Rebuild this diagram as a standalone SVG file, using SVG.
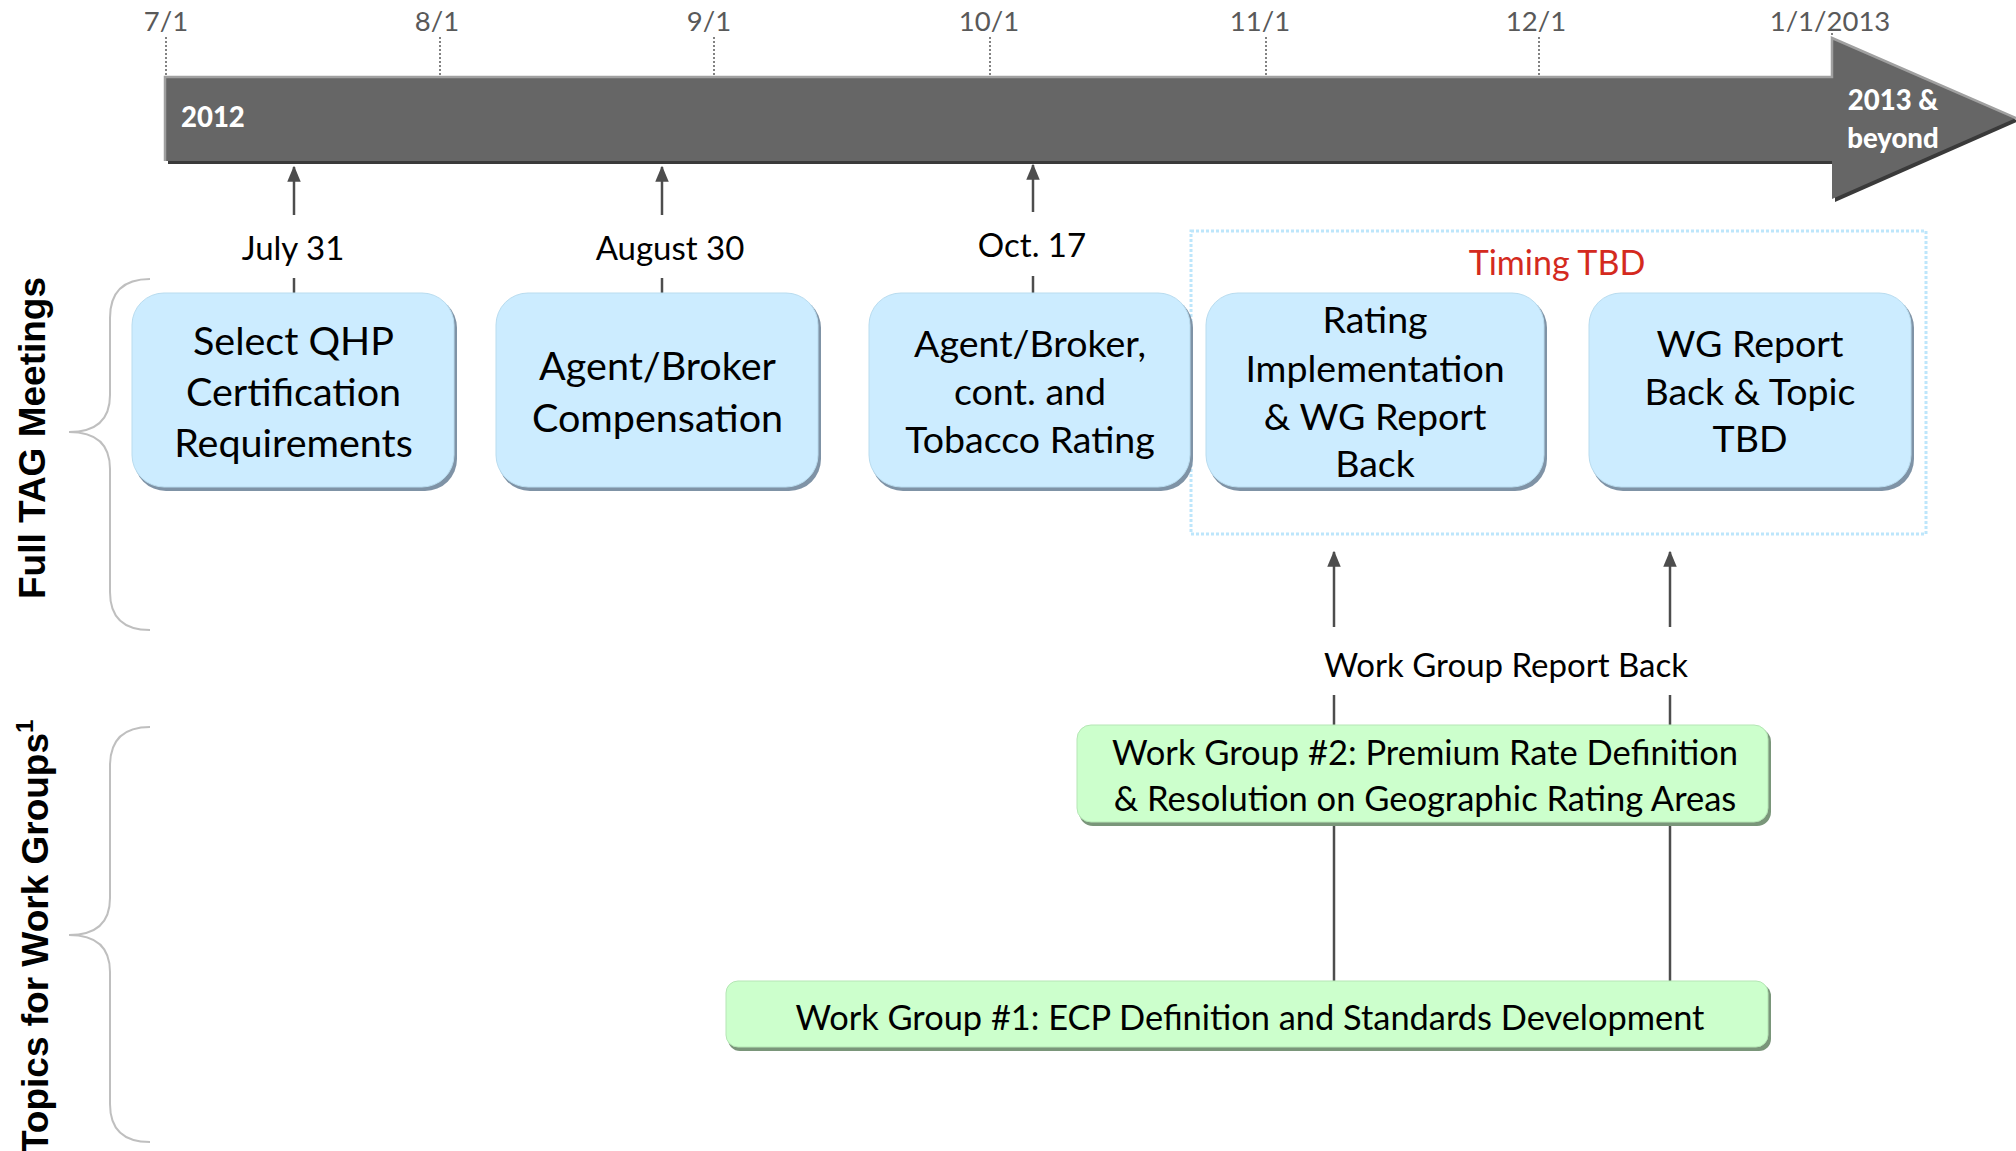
<svg xmlns="http://www.w3.org/2000/svg" width="2016" height="1151" viewBox="0 0 2016 1151">
  <defs>
    <style>
      .cal { font-family: Lato, "Liberation Sans", sans-serif; }
      .tick-label { font-family: Lato, "Liberation Sans", sans-serif; font-size: 27.5px; fill: #595959; text-anchor: middle; }
      .tick { stroke: #595959; stroke-width: 1.5; stroke-dasharray: 2 2; fill: none; }
      .bar-text { font-family: Lato, "Liberation Sans", sans-serif; font-weight: 900; font-size: 27.5px; fill: #ffffff; }
      .date { font-family: Lato, "Liberation Sans", sans-serif; font-size: 33px; fill: #000000; text-anchor: middle; }
      .conn { stroke: #4d4d4d; stroke-width: 2.5; fill: none; }
      .arrow { stroke: #4d4d4d; stroke-width: 2.5; fill: none; marker-end: url(#head); }
      .blue { fill: #CCECFF; stroke: #b9dcef; stroke-width: 1; }
      .blue-shadow { fill: #7f93a6; }
      .green { fill: #CCFFCC; stroke: #b5e6b5; stroke-width: 1; }
      .green-shadow { fill: #7a967a; }
      .box-text { font-family: Lato, "Liberation Sans", sans-serif; fill: #000000; text-anchor: middle; }
      .brace { stroke: #bfbfbf; stroke-width: 2; fill: none; }
      .side { font-family: "Liberation Sans", Arial, sans-serif; font-weight: bold; font-size: 37px; fill: #000000; }
    </style>
    <marker id="head" viewBox="0 0 12 10" refX="11" refY="5" markerWidth="6.5" markerHeight="5.4" orient="auto" markerUnits="strokeWidth">
      <path d="M0,0 L12,5 L0,10 Z" fill="#4d4d4d"/>
    </marker>
  </defs>

  <rect width="2016" height="1151" fill="#ffffff"/>

  <!-- month ticks -->
  <g id="ticks">
    <line class="tick" x1="166" y1="37" x2="166" y2="77"/>
    <line class="tick" x1="440" y1="37" x2="440" y2="77"/>
    <line class="tick" x1="714" y1="37" x2="714" y2="77"/>
    <line class="tick" x1="990" y1="37" x2="990" y2="77"/>
    <line class="tick" x1="1266" y1="37" x2="1266" y2="77"/>
    <line class="tick" x1="1539" y1="37" x2="1539" y2="77"/>
    <line class="tick" x1="1832" y1="33" x2="1832" y2="40"/>
    <text class="tick-label" x="166" y="31">7/1</text>
    <text class="tick-label" x="437" y="31">8/1</text>
    <text class="tick-label" x="709" y="31">9/1</text>
    <text class="tick-label" x="989" y="31">10/1</text>
    <text class="tick-label" x="1260" y="31">11/1</text>
    <text class="tick-label" x="1536" y="31">12/1</text>
    <text class="tick-label" x="1830" y="31">1/1/2013</text>
  </g>

  <!-- timeline arrow -->
  <g id="timeline">
    <path d="M168,80 H1835 V41 L2019,121 L1835,202 V164 H168 Z" fill="#3a3a3a"/>
    <path d="M165,77 H1832 V38 L2016,118 L1832,199 V161 H165 Z" fill="#666666"/>
    <path d="M165,161 V77 H1832 V38 L2016,118" fill="none" stroke="#a0a0a0" stroke-width="2.5"/>
    <text class="bar-text" x="181" y="127">2012</text>
    <text class="bar-text" x="1893" y="110" text-anchor="middle">2013 &amp;</text>
    <text class="bar-text" x="1893" y="148" text-anchor="middle">beyond</text>
  </g>

  <!-- side group labels and braces -->
  <g id="label-tag">
    <text class="side" transform="translate(45,438) rotate(-90)" text-anchor="middle">Full TAG Meetings</text>
    <path class="brace" d="M150,279 Q110,279 110,318 L110,395 Q110,432 69,432 Q110,432 110,469 L110,592 Q110,630 150,630"/>
  </g>
  <g id="label-wg">
    <text class="side" transform="translate(48,1153) rotate(-90)">Topics for Work Groups<tspan font-size="24" dy="-15">1</tspan></text>
    <path class="brace" d="M150,727 Q110,727 110,766 L110,898 Q110,935 69,935 Q110,935 110,972 L110,1104 Q110,1142 150,1142"/>
  </g>

  <!-- dashed frame around meetings with undecided timing -->
  <g id="timing-tbd">
    <rect x="1191" y="231" width="735" height="303" fill="none" stroke="#bde6fb" stroke-width="3" stroke-dasharray="3 2"/>
    <text class="cal" x="1557" y="275" font-size="34" fill="#d42a1e" text-anchor="middle">Timing TBD</text>
  </g>

  <!-- connectors -->
  <g id="connectors">
    <line class="arrow" x1="294" y1="215" x2="294" y2="167"/>
    <line class="arrow" x1="662" y1="215" x2="662" y2="167"/>
    <line class="arrow" x1="1033" y1="212" x2="1033" y2="165"/>
    <line class="conn" x1="294" y1="278" x2="294" y2="293"/>
    <line class="conn" x1="662" y1="278" x2="662" y2="293"/>
    <line class="conn" x1="1033" y1="276" x2="1033" y2="293"/>
    <line class="arrow" x1="1334" y1="627" x2="1334" y2="552"/>
    <line class="arrow" x1="1670" y1="627" x2="1670" y2="552"/>
    <line class="conn" x1="1334" y1="695" x2="1334" y2="725"/>
    <line class="conn" x1="1670" y1="695" x2="1670" y2="725"/>
    <line class="conn" x1="1334" y1="823" x2="1334" y2="981"/>
    <line class="conn" x1="1670" y1="823" x2="1670" y2="981"/>
  </g>

  <!-- meeting dates -->
  <g id="dates">
    <text class="date" x="293" y="260">July 31</text>
    <text class="date" x="670" y="260">August 30</text>
    <text class="date" x="1032" y="257">Oct. 17</text>
    <text class="date" x="1506" y="677" font-size="33.7">Work Group Report Back</text>
  </g>

  <!-- full TAG meeting topics -->
  <g id="meeting-qhp">
    <rect class="blue-shadow" x="134" y="296" width="323" height="195" rx="32"/>
    <rect class="blue" x="132" y="293" width="322" height="194" rx="32"/>
    <text class="box-text" font-size="39.5"><tspan x="293.5" y="355">Select QHP</tspan><tspan x="293.5" y="406">Certification</tspan><tspan x="293.5" y="457">Requirements</tspan></text>
  </g>
  <g id="meeting-agent">
    <rect class="blue-shadow" x="498" y="296" width="323" height="195" rx="32"/>
    <rect class="blue" x="496" y="293" width="322" height="194" rx="32"/>
    <text class="box-text" font-size="39.5"><tspan x="657.5" y="380">Agent/Broker</tspan><tspan x="657.5" y="432">Compensation</tspan></text>
  </g>
  <g id="meeting-tobacco">
    <rect class="blue-shadow" x="871" y="296" width="322" height="195" rx="32"/>
    <rect class="blue" x="869" y="293" width="321" height="194" rx="32"/>
    <text class="box-text" font-size="37.5"><tspan x="1030" y="357">Agent/Broker,</tspan><tspan x="1030" y="405">cont. and</tspan><tspan x="1030" y="453">Tobacco Rating</tspan></text>
  </g>
  <g id="meeting-rating">
    <rect class="blue-shadow" x="1208" y="296" width="339" height="195" rx="32"/>
    <rect class="blue" x="1206" y="293" width="338" height="194" rx="32"/>
    <text class="box-text" font-size="37.5"><tspan x="1375" y="333">Rating</tspan><tspan x="1375" y="382">Implementation</tspan><tspan x="1375" y="430">&amp; WG Report</tspan><tspan x="1375" y="477">Back</tspan></text>
  </g>
  <g id="meeting-wg-topic">
    <rect class="blue-shadow" x="1591" y="296" width="323" height="195" rx="32"/>
    <rect class="blue" x="1589" y="293" width="322" height="194" rx="32"/>
    <text class="box-text" font-size="37.5"><tspan x="1750" y="357">WG Report</tspan><tspan x="1750" y="405">Back &amp; Topic</tspan><tspan x="1750" y="452">TBD</tspan></text>
  </g>

  <!-- work groups -->
  <g id="work-group-2">
    <rect class="green-shadow" x="1079" y="728" width="692" height="98" rx="14"/>
    <rect class="green" x="1077" y="725" width="691" height="97" rx="14"/>
    <text class="box-text" font-size="34.5"><tspan x="1425" y="765">Work Group #2: Premium Rate Definition</tspan><tspan x="1425" y="811">&amp; Resolution on Geographic Rating Areas</tspan></text>
  </g>
  <g id="work-group-1">
    <rect class="green-shadow" x="728" y="984" width="1043" height="67" rx="12"/>
    <rect class="green" x="726" y="981" width="1042" height="66" rx="12"/>
    <text class="box-text" font-size="34.4" x="1250" y="1030">Work Group #1: ECP Definition and Standards Development</text>
  </g>
</svg>
